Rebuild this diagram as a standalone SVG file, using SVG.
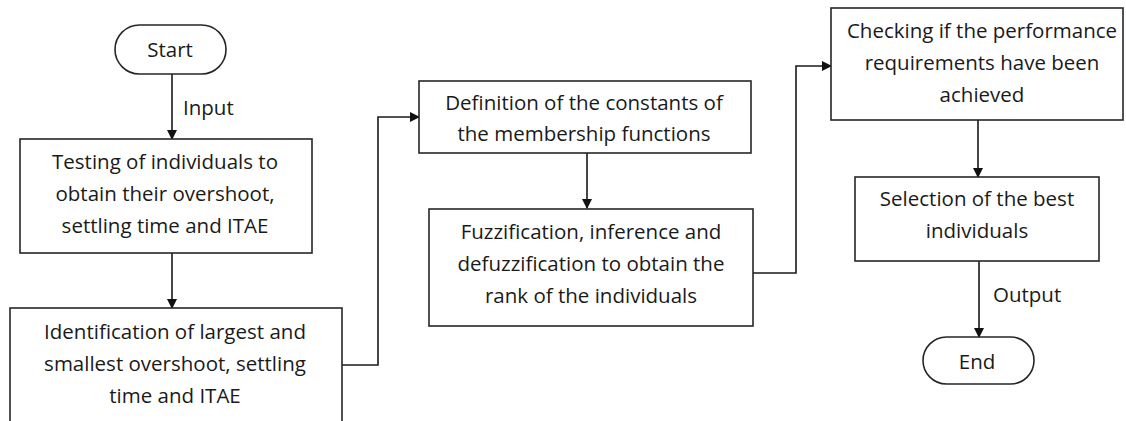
<svg xmlns="http://www.w3.org/2000/svg" width="1126" height="421" viewBox="0 0 1126 421">
<style>
.box{fill:#fff;stroke:#262626;stroke-width:1.6}
.t{font-family:"Open Sans","Liberation Sans",sans-serif;font-size:20.5px;fill:#1a1a1a;text-anchor:middle}
.l{font-family:"Open Sans","Liberation Sans",sans-serif;font-size:20.5px;fill:#1a1a1a}
.c{fill:none;stroke:#1a1a1a;stroke-width:1.6}
</style>
<defs>
<marker id="ah" markerWidth="10" markerHeight="10" refX="9" refY="5" orient="auto" markerUnits="userSpaceOnUse">
<path d="M0,0 L10,5 L0,10 Z" fill="#111"/>
</marker>
</defs>
<rect width="1126" height="421" fill="#fff"/>
<g id="connectors">
<path class="c" d="M172,74 V139" marker-end="url(#ah)"/>
<path class="c" d="M172,253 V308" marker-end="url(#ah)"/>
<path class="c" d="M342,365 H378 V117 H419" marker-end="url(#ah)"/>
<path class="c" d="M587,153 V208" marker-end="url(#ah)"/>
<path class="c" d="M753,273 H796 V66 H831" marker-end="url(#ah)"/>
<path class="c" d="M978,120 V177" marker-end="url(#ah)"/>
<path class="c" d="M979,261 V337" marker-end="url(#ah)"/>
<text class="l" x="183" y="115">Input</text>
<text class="l" x="993" y="302">Output</text>
</g>
<g id="start">
<rect class="box" x="115" y="25" width="111" height="49" rx="24.5"/>
<text class="t" x="170" y="57">Start</text>
</g>
<g id="testing">
<rect class="box" x="20" y="139" width="292" height="114"/>
<text class="t" x="165" y="169">Testing of individuals to</text>
<text class="t" x="165" y="201">obtain their overshoot,</text>
<text class="t" x="165" y="233">settling time and ITAE</text>
</g>
<g id="identification">
<rect class="box" x="10" y="308" width="332" height="125"/>
<text class="t" x="175" y="339">Identification of largest and</text>
<text class="t" x="175" y="371">smallest overshoot, settling</text>
<text class="t" x="175" y="403">time and ITAE</text>
</g>
<g id="definition">
<rect class="box" x="419" y="81" width="332" height="72"/>
<text class="t" x="584" y="110">Definition of the constants of</text>
<text class="t" x="584" y="141">the membership functions</text>
</g>
<g id="fuzzification">
<rect class="box" x="429" y="209" width="324" height="117"/>
<text class="t" x="591" y="239">Fuzzification, inference and</text>
<text class="t" x="591" y="271">defuzzification to obtain the</text>
<text class="t" x="591" y="303">rank of the individuals</text>
</g>
<g id="checking">
<rect class="box" x="831" y="8" width="292" height="112"/>
<text class="t" x="982" y="38">Checking if the performance</text>
<text class="t" x="982" y="70">requirements have been</text>
<text class="t" x="982" y="102">achieved</text>
</g>
<g id="selection">
<rect class="box" x="855" y="177" width="244" height="84"/>
<text class="t" x="977" y="206">Selection of the best</text>
<text class="t" x="977" y="238">individuals</text>
</g>
<g id="end">
<rect class="box" x="923" y="337" width="111" height="47" rx="23.5"/>
<text class="t" x="977" y="369">End</text>
</g>
</svg>
